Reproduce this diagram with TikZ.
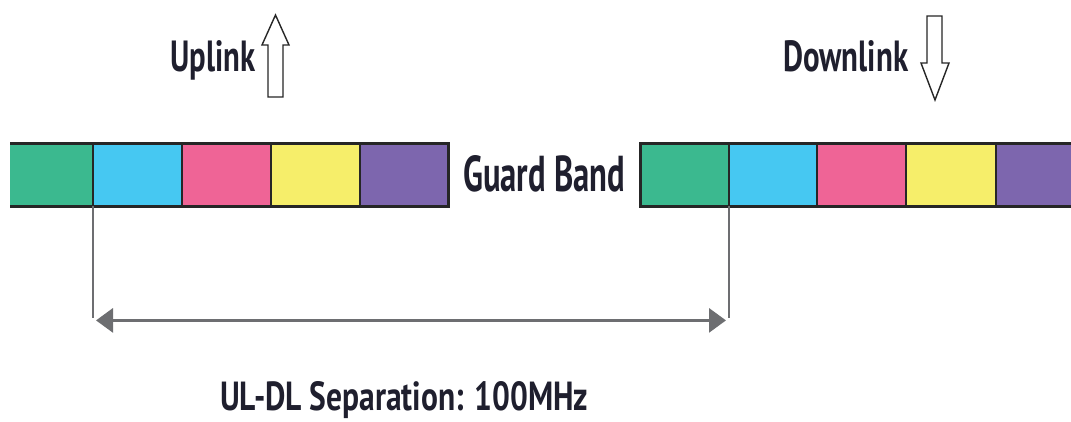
\documentclass[tikz,border=0pt]{standalone}
\usepackage{fontspec}
\setmainfont{PT Sans}
\usetikzlibrary{arrows.meta,calc}
\definecolor{cgreen}{HTML}{3BB98F}
\definecolor{ccyan}{HTML}{46C8F2}
\definecolor{cpink}{HTML}{EF6496}
\definecolor{cyellow}{HTML}{F6EE6A}
\definecolor{cpurple}{HTML}{7D66AE}
\definecolor{edge}{HTML}{262626}
\definecolor{guide}{HTML}{6D6E71}
\definecolor{txt}{HTML}{1F1F2E}
\tikzset{
  cell/.style={rectangle, inner sep=0pt, anchor=north west, minimum height=62pt},
  bandline/.style={line width=3pt, color=edge},
  divline/.style={line width=2.5pt, color=edge},
  guideline/.style={line width=2pt, color=guide},
  dimline/.style={line width=3pt, color=guide, {Triangle[length=17pt,width=24pt]}-{Triangle[length=17pt,width=24pt]}, shorten <=3pt, shorten >=3pt},
  hollow/.style={line width=1.4pt, color=edge, fill=white, line join=miter},
  lbl/.style={inner sep=0pt, anchor=base west, text=txt, font=\bfseries}
}
\begin{document}
\begin{tikzpicture}[x=1pt,y=-1pt]
\useasboundingbox (0,0) rectangle (1071,422);
% left band
\node[cell, fill=cgreen,  minimum width=83pt] (L1) at (10,144) {};
\node[cell, fill=ccyan,   minimum width=89pt] (L2) at (93,144) {};
\node[cell, fill=cpink,   minimum width=89pt] (L3) at (182,144) {};
\node[cell, fill=cyellow, minimum width=89pt] (L4) at (271,144) {};
\node[cell, fill=cpurple, minimum width=88pt] (L5) at (360,144) {};
% right band
\node[cell, fill=cgreen,  minimum width=89pt] (R1) at (640,144) {};
\node[cell, fill=ccyan,   minimum width=88pt] (R2) at (729,144) {};
\node[cell, fill=cpink,   minimum width=89pt] (R3) at (817,144) {};
\node[cell, fill=cyellow, minimum width=90pt] (R4) at (906,144) {};
\node[cell, fill=cpurple, minimum width=75pt] (R5) at (996,144) {};
% borders
\draw[bandline] (L1.north west) -- (L5.north east) -- (L5.south east) -- (L1.south west);
\foreach \c in {L2,L3,L4,L5}{\draw[divline] (\c.north west) -- (\c.south west);}
\draw[bandline] (R5.north east) -- (R1.north west) -- (R1.south west) -- (R5.south east);
\foreach \c in {R2,R3,R4,R5}{\draw[divline] (\c.north west) -- (\c.south west);}
% separation
\coordinate (sepL) at ($(L2.south west)+(0,112)$);
\coordinate (sepR) at ($(R2.south west)+(0,112)$);
\coordinate (arrL) at ($(L2.south west)+(0,114)$);
\coordinate (arrR) at ($(R2.south west)+(0,114)$);
\draw[guideline] (L2.south west) -- (sepL);
\draw[guideline] (R2.south west) -- (sepR);
\draw[dimline] (arrL) -- (arrR);
% labels
\node[lbl] (guard) at (463,192) {\resizebox{162pt}{36pt}{Guard Band}};
\node[lbl] (uplink) at (170,72) {\resizebox{85pt}{31pt}{Uplink}};
\node[lbl] (downlink) at (783,72) {\resizebox{125pt}{31pt}{Downlink}};
\node[lbl] (sep) at (220,410) {\resizebox{368pt}{29pt}{UL-DL Separation: 100MHz}};
% hollow arrows
\draw[hollow] (275.5,15) -- (289,45) -- (283,45) -- (283,97) -- (268,97) -- (268,45) -- (262,45) -- cycle;
\draw[hollow] (935,100) -- (949,63) -- (942,63) -- (942,16) -- (927,16) -- (927,63) -- (921,63) -- cycle;
\end{tikzpicture}
\end{document}
